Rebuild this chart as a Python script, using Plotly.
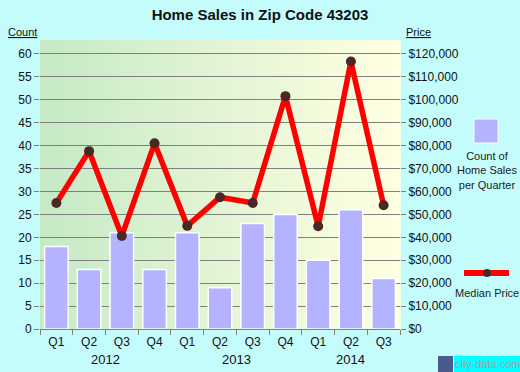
import plotly.graph_objects as go

quarters = ["Q1", "Q2", "Q3", "Q4", "Q1", "Q2", "Q3", "Q4", "Q1", "Q2", "Q3"]
years = ["2012", "2013", "2014"]
year_centers = [1.5, 5.5, 9.0]
sales_count = [18, 13, 21, 13, 21, 9, 23, 25, 15, 26, 11]
median_price = [55000, 77600, 40600, 81000, 45000, 57500, 55000, 101600, 44800, 116700, 54000]

xpos = list(range(len(quarters)))
count_top = 63.05
price_top = count_top * 2000

fig = go.Figure()
fig.add_trace(go.Bar(
    x=xpos, y=sales_count, width=0.72,
    marker=dict(color="#b3b3ff", line=dict(color="white", width=1.5)),
    yaxis="y", showlegend=False, hoverinfo="skip"))
fig.add_trace(go.Scatter(
    x=xpos, y=median_price, mode="lines+markers",
    line=dict(color="#ff0000", width=5.5),
    marker=dict(color="#4a2828", size=10),
    yaxis="y2", showlegend=False, hoverinfo="skip"))

PL, PR, PT, PB = 40, 400, 40, 329
PW, PH = PR - PL, PB - PT


def px(x):
    return (x - PL) / PW


def py(y):
    return (PB - y) / PH


# gradient plot background
shapes = []
n = 72
c0 = (198, 234, 198)
c1 = (255, 255, 226)
for i in range(n):
    t = i / (n - 1)
    col = tuple(round(c0[k] + (c1[k] - c0[k]) * t) for k in range(3))
    shapes.append(dict(type="rect", xref="paper", yref="paper",
                       x0=i / n, x1=(i + 1) / n + 0.002, y0=0, y1=1,
                       fillcolor="rgb(%d,%d,%d)" % col, line=dict(width=0),
                       layer="below"))
# legend marks
shapes.append(dict(type="rect", xref="paper", yref="paper",
                   x0=px(474), x1=px(498), y0=py(143), y1=py(119),
                   fillcolor="#b3b3ff", line=dict(color="white", width=1)))
shapes.append(dict(type="line", xref="paper", yref="paper",
                   x0=px(464), x1=px(509), y0=py(273), y1=py(273),
                   line=dict(color="#ff0000", width=6)))
shapes.append(dict(type="circle", xref="paper", yref="paper",
                   x0=px(483), x1=px(491), y0=py(277), y1=py(269),
                   fillcolor="#4a2828", line=dict(width=0)))
# watermark box and icon
shapes.append(dict(type="rect", xref="paper", yref="paper",
                   x0=px(454), x1=px(520), y0=py(372), y1=py(356),
                   fillcolor="#00ffff", line=dict(width=0)))
shapes.append(dict(type="rect", xref="paper", yref="paper",
                   x0=px(438), x1=px(453), y0=py(372), y1=py(356),
                   fillcolor="#4a5a8a", line=dict(width=0)))

font = "Liberation Sans, Arial, sans-serif"
annotations = []
for yr, c in zip(years, year_centers):
    annotations.append(dict(x=c, y=py(359), xref="x", yref="paper",
                            text=yr, showarrow=False,
                            xanchor="center", yanchor="middle",
                            font=dict(size=13, color="#111", family=font)))


def ann(x, y, text, size=11, color="#222", **kw):
    d = dict(x=px(x), y=py(y), xref="paper", yref="paper", text=text,
             showarrow=False, xanchor="center", yanchor="middle",
             font=dict(size=size, color=color, family=font))
    d.update(kw)
    return d


annotations += [
    ann(22, 32, "<u>Count</u>", color="#111"),
    ann(418, 32, "<u>Price</u>", color="#111"),
    ann(487, 170, "Count of<br>Home Sales<br>per Quarter"),
    ann(487, 293, "Median Price"),
    ann(487, 364, "city-data.com", size=11, color="#9aa8a8", borderpad=0),
]

fig.update_layout(
    width=520, height=372,
    margin=dict(l=PL, r=520 - PR, t=PT, b=372 - PB),
    paper_bgcolor="#c4fcfc",
    plot_bgcolor="rgba(0,0,0,0)",
    title=dict(text="<b>Home Sales in Zip Code 43203</b>", x=0.5, xanchor="center",
               y=1 - 15 / 372, yanchor="middle",
               font=dict(size=15, color="#111", family=font)),
    shapes=shapes,
    annotations=annotations,
    bargap=0,
    xaxis=dict(
        range=[-0.5, len(quarters) - 0.5],
        tickvals=xpos, ticktext=quarters, ticks="",
        ticklabelstandoff=2,
        tickfont=dict(size=12, color="#111", family=font),
        showgrid=False, zeroline=False,
        showline=True, linecolor="#808080", linewidth=1,
        minor=dict(tickvals=[i - 0.5 for i in range(len(quarters) + 1)],
                   ticks="outside", ticklen=5, tickcolor="#808080", showgrid=False),
        fixedrange=True,
    ),
    yaxis=dict(
        range=[0, count_top], dtick=5, tick0=0,
        ticks="outside", ticklen=5, tickcolor="#808080",
        tickfont=dict(size=12, color="#111", family=font),
        showgrid=True, gridcolor="#808080", gridwidth=1,
        zeroline=False, showline=False, fixedrange=True,
    ),
    yaxis2=dict(
        range=[0, price_top], dtick=10000, tick0=0,
        overlaying="y", side="right",
        tickformat="$,.0f",
        ticks="outside", ticklen=5, tickcolor="#808080",
        tickfont=dict(size=12, color="#111", family=font),
        showgrid=False, zeroline=False, showline=False, fixedrange=True,
    ),
)

fig.write_html("out.html", config={"displayModeBar": False, "staticPlot": True})

with open("out.html", encoding="utf-8") as f:
    html = f.read()
html = html.replace("<head>", "<head><style>html,body{margin:0;padding:0;overflow:hidden;}</style>", 1)
with open("out.html", "w", encoding="utf-8") as f:
    f.write(html)
